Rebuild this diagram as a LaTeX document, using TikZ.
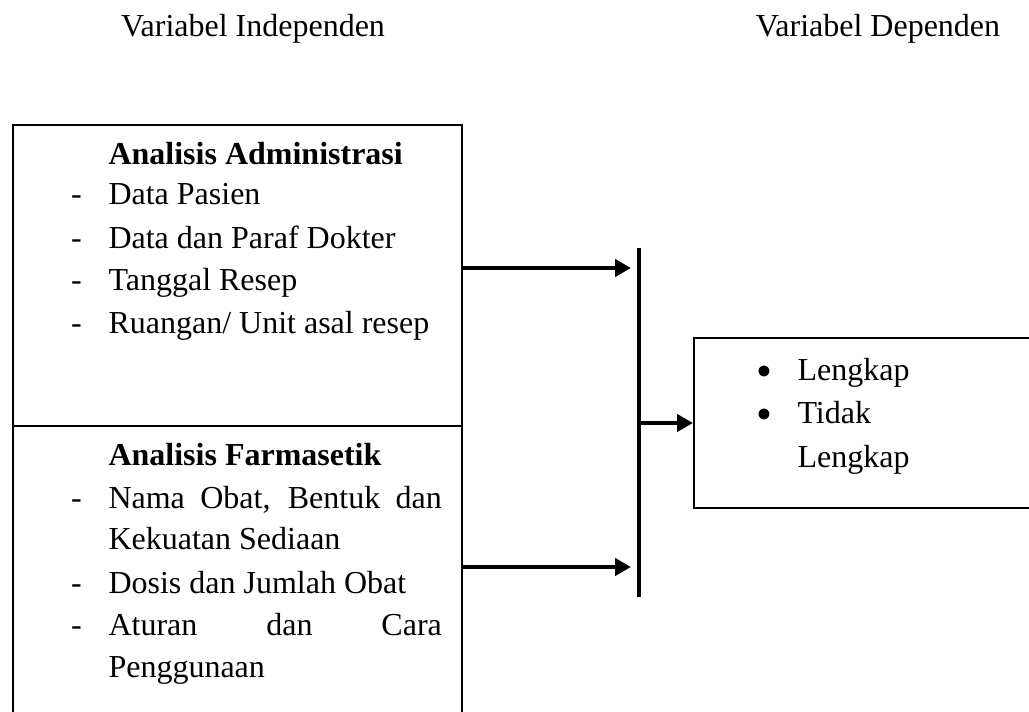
\documentclass[tikz,border=0pt]{standalone}
\usepackage{fontspec}
\setmainfont{Liberation Serif}
\usetikzlibrary{arrows.meta}

\tikzset{
  box/.style={draw, line width=0.75pt, anchor=north west, inner sep=0pt},
  txt/.style={anchor=base west, inner sep=0pt, font=\fontsize{12}{14}\selectfont},
  arr/.style={line width=1.5pt, -{Triangle[length=6pt,width=6.4pt]}},
}
\newcommand{\dashline}[1]{\llap{-\hspace{10pt}}#1}
\newcommand{\dotline}[1]{\llap{\raisebox{-2.4pt}{\fontsize{17}{17}\selectfont\textbullet}\hspace{9.5pt}}#1}

\begin{document}
\begin{tikzpicture}[x=0.375pt, y=-0.375pt]
    \useasboundingbox (0,0) rectangle (1029,712);

    % First, locate the boxes and name them
        \node[box, minimum width=168.4pt, minimum height=112.9pt] (admin) at (12,124) {};
        \node[box, minimum width=168.4pt, minimum height=109.5pt] (farma) at (12,425) {};
        \node[box, minimum width=127.5pt, minimum height=63.75pt] (hasil) at (693,337) {};

    % Headings
        \node[txt, anchor=base] (indep) at (253,37) {Variabel Independen};
        \node[txt, anchor=base] (dep) at (878,37) {Variabel Dependen};

    % Text of the boxes
        \node[txt] (admtitle) at (108,165) {\textbf{Analisis Administrasi}};
        \node[txt] (adm1) at (108,205) {\dashline{Data Pasien}};
        \node[txt] (adm2) at (108,248) {\dashline{Data dan Paraf Dokter}};
        \node[txt] (adm3) at (108,290) {\dashline{Tanggal Resep}};
        \node[txt] (adm4) at (108,333) {\dashline{Ruangan/ Unit asal resep}};

        \node[txt] (farmtitle) at (108,465) {\textbf{Analisis Farmasetik}};
        \node[txt] (farm1) at (108,508) {\dashline{\makebox[125pt][s]{Nama Obat, Bentuk dan}}};
        \node[txt] (farm1b) at (108,549) {Kekuatan Sediaan};
        \node[txt] (farm2) at (108,593) {\dashline{Dosis dan Jumlah Obat}};
        \node[txt] (farm3) at (108,635) {\dashline{\makebox[125pt][s]{Aturan dan Cara}}};
        \node[txt] (farm3b) at (108,677) {Penggunaan};

        \node[txt] (hasil1) at (797,380) {\dotline{Lengkap}};
        \node[txt] (hasil2) at (797,423) {\dotline{Tidak}};
        \node[txt] (hasil2b) at (797,467) {Lengkap};

    % Now draw the bar and the arrows:
        \coordinate (bartop) at (639,248);
        \coordinate (barbot) at (639,597);
        \coordinate (hit1) at (631,268);
        \coordinate (hit2) at (631,567);
        \draw [line width=1.5pt] (bartop) -- (barbot);
        \draw [arr] (admin.east |- hit1) -- (hit1);
        \draw [arr] (farma.east |- hit2) -- (hit2);
        \draw [arr] (hasil.west -| bartop) -- (hasil.west);
\end{tikzpicture}
\end{document}
